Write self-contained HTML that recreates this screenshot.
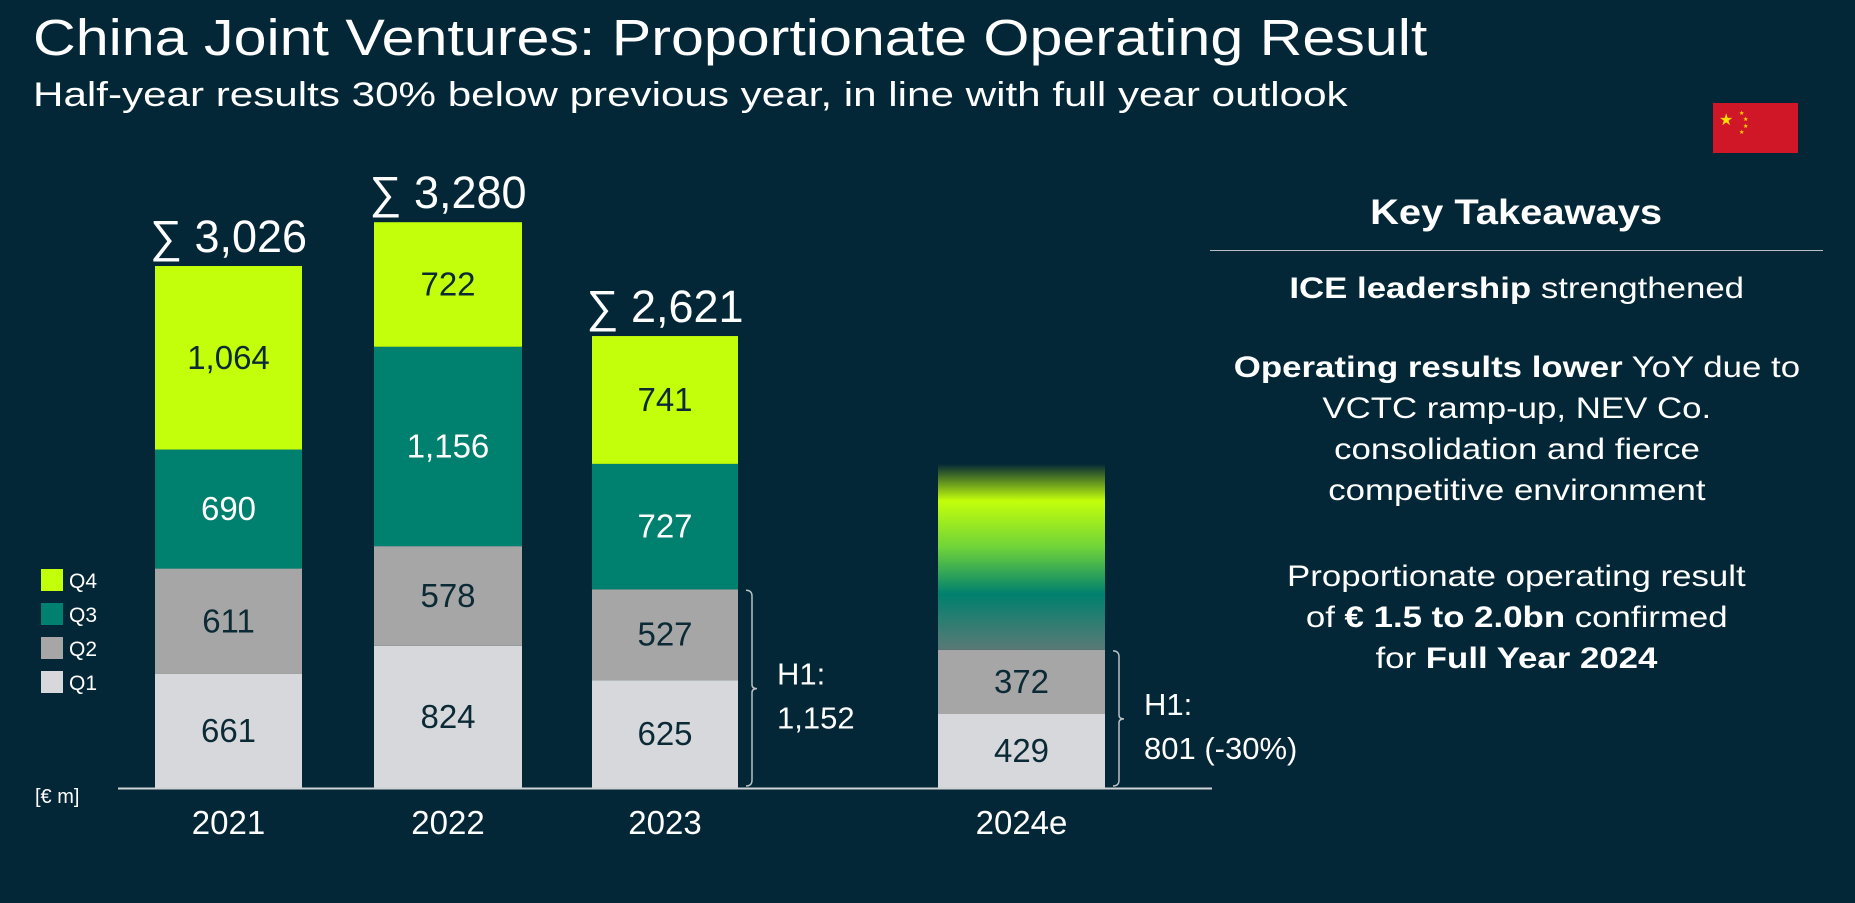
<!DOCTYPE html>
<html><head><meta charset="utf-8">
<style>
html,body{margin:0;padding:0;background:#032736;}
body{width:1855px;height:903px;position:relative;overflow:hidden;font-family:"Liberation Sans",sans-serif;color:#fff;}
.abs{position:absolute;}
#title{left:33px;top:8px;font-size:51px;white-space:nowrap;transform-origin:0 0;transform:scaleX(1.16);}
#subtitle{left:33px;top:76px;font-size:34px;white-space:nowrap;transform-origin:0 0;transform:scaleX(1.24);}
#takeaways{left:1210px;width:613px;top:0;height:700px;}
.tk{position:absolute;left:0;width:613px;text-align:center;font-size:29.5px;line-height:41px;}
.tk span.s{display:inline-block;transform:scaleX(1.18);}
</style></head>
<body>
<div id="title" class="abs">China Joint Ventures: Proportionate Operating Result</div>
<div id="subtitle" class="abs">Half-year results 30% below previous year, in line with full year outlook</div>

<svg class="abs" style="left:1713px;top:103px" width="85" height="50">
<rect width="85" height="50" fill="#cf1728"/>
<text x="6" y="22" font-size="16" fill="#ffde00" font-family="DejaVu Sans">★</text>
<text x="26" y="12" font-size="6" fill="#ffde00" font-family="DejaVu Sans">★</text>
<text x="30" y="18" font-size="6" fill="#ffde00" font-family="DejaVu Sans">★</text>
<text x="30" y="25" font-size="6" fill="#ffde00" font-family="DejaVu Sans">★</text>
<text x="26" y="31" font-size="6" fill="#ffde00" font-family="DejaVu Sans">★</text>
</svg>

<div id="takeaways" class="abs">
<div class="tk" style="top:192px;font-size:35px;font-weight:bold"><span class="s" style="transform:scaleX(1.14)">Key Takeaways</span></div>
<div class="abs" style="left:0;top:250px;width:613px;height:1px;background:#b8c0c4"></div>
<div class="tk" style="top:268px"><span class="s"><b>ICE leadership</b> strengthened</span></div>
<div class="tk" style="top:347px"><span class="s"><b>Operating results lower</b> YoY due to</span><br><span class="s">VCTC ramp-up, NEV Co.</span><br><span class="s">consolidation and fierce</span><br><span class="s">competitive environment</span></div>
<div class="tk" style="top:556px"><span class="s">Proportionate operating result</span><br><span class="s">of <b>€ 1.5 to 2.0bn</b> confirmed</span><br><span class="s">for <b>Full Year 2024</b></span></div>
</div>

<svg id="chart" class="abs" style="left:0;top:0" width="1400" height="903"></svg>

<script>
const categories = ["2021","2022","2023","2024e"];
const q1 = [661, 824, 625, 429];
const q2 = [611, 578, 527, 372];
const q3 = [690, 1156, 727, null];
const q4 = [1064, 722, 741, null];
const totals = ["∑ 3,026","∑ 3,280","∑ 2,621",null];
const valueLabels = {q1:["661","824","625","429"], q2:["611","578","527","372"], q3:["690","1,156","727",null], q4:["1,064","722","741",null]};
const legendItems = ["Q4","Q3","Q2","Q1"];
const h1Labels = [null,null,["H1:","1,152"],["H1:","801 (-30%)"]];

const NS="http://www.w3.org/2000/svg";
const svg=document.getElementById('chart');
const baseY=788, pxPerUnit=0.1725;
const barLeft=[155,374,592,938], barW=[147,148,146,167];
function y(v){return baseY - v*pxPerUnit;}
function h(v){return v*pxPerUnit;}
function mk(tag,attrs,parent){const e=document.createElementNS(NS,tag);for(const k in attrs)e.setAttribute(k,attrs[k]);(parent||svg).appendChild(e);return e;}

const colors={q1:"#d6d8dc",q2:"#a6a6a6",q3:"#00806e",q4:"#c3ff0a"};
const txtCol={q1:"#0b2a35",q2:"#0b2a35",q3:"#ffffff",q4:"#0b2a35"};

const defs=mk('defs',{});
const lg=mk('linearGradient',{id:'fade',x1:0,y1:0,x2:0,y2:1},defs);
[["0","#032736"],["0.2","#c3ff0a"],["0.45","#6fd33a"],["0.7","#00806e"],["1","#5a7a76"]].forEach(s=>mk('stop',{offset:s[0],'stop-color':s[1]},lg));

categories.forEach((cat,i)=>{
  const g=mk('g',{});
  
  
  let cum=0;
  [["q1",q1],["q2",q2],["q3",q3],["q4",q4]].forEach(([k,arr])=>{
    const v=arr[i]; if(v==null) return;
    const r=mk('rect',{x:barLeft[i],y:y(cum+v),width:barW[i],height:h(v),fill:colors[k]},g);
    
    
    const t=mk('text',{x:barLeft[i]+barW[i]/2,y:y(cum+v/2)+11,'text-anchor':'middle','font-size':33,fill:txtCol[k]},g);
    t.textContent=valueLabels[k][i];
    
    
    cum+=v;
  });
  if(q3[i]==null){
    const gr=mk('rect',{x:barLeft[i],y:y(cum)-186,width:barW[i],height:186,fill:'url(#fade)'},g);
    
    
  }
  if(totals[i]){
    const t=mk('text',{x:barLeft[i]+barW[i]/2,y:y(cum)-14,'text-anchor':'middle','font-size':45,fill:'#fff'},g);
    t.textContent=totals[i];
    
    
  }
  const xl=mk('text',{x:barLeft[i]+barW[i]/2,y:834,'text-anchor':'middle','font-size':33,fill:'#fff'},g);
  xl.textContent=cat;
  
  
  if(h1Labels[i]){
    const top=y(q1[i]+q2[i]), bx=barLeft[i]+barW[i]+8, mid=(top+baseY)/2;
    const b=mk('path',{d:`M${bx} ${top+1} q6 0 6 6 V${mid-4} q0 4 5 4 q-5 0 -5 4 V${baseY-8} q0 6 -6 6`,stroke:'#b8c0c4','stroke-width':1.5,fill:'none'},g);
    
    
    const t=mk('text',{x:bx+31,y:mid-4,'font-size':31,fill:'#fff'},g);
    
    
    const s1=mk('tspan',{x:bx+31},t); s1.textContent=h1Labels[i][0];
    const s2=mk('tspan',{x:bx+31,dy:44},t); s2.textContent=h1Labels[i][1];
  }
});

const ax=mk('line',{x1:118,x2:1212,y1:baseY+0.5,y2:baseY+0.5,stroke:'#d0d4d6','stroke-width':2});



const unit=mk('text',{x:35,y:803,'font-size':20,fill:'#fff'});
unit.textContent='[€ m]';



const legKeys=["q4","q3","q2","q1"];
legendItems.forEach((name,j)=>{
  const yy=569+j*34;
  const g=mk('g',{});
  
  
  mk('rect',{x:41,y:yy,width:22,height:22,fill:colors[legKeys[j]]},g);
  const t=mk('text',{x:69,y:yy+19,'font-size':21,fill:'#fff'},g);
  t.textContent=name;
});
</script>
</body></html>
